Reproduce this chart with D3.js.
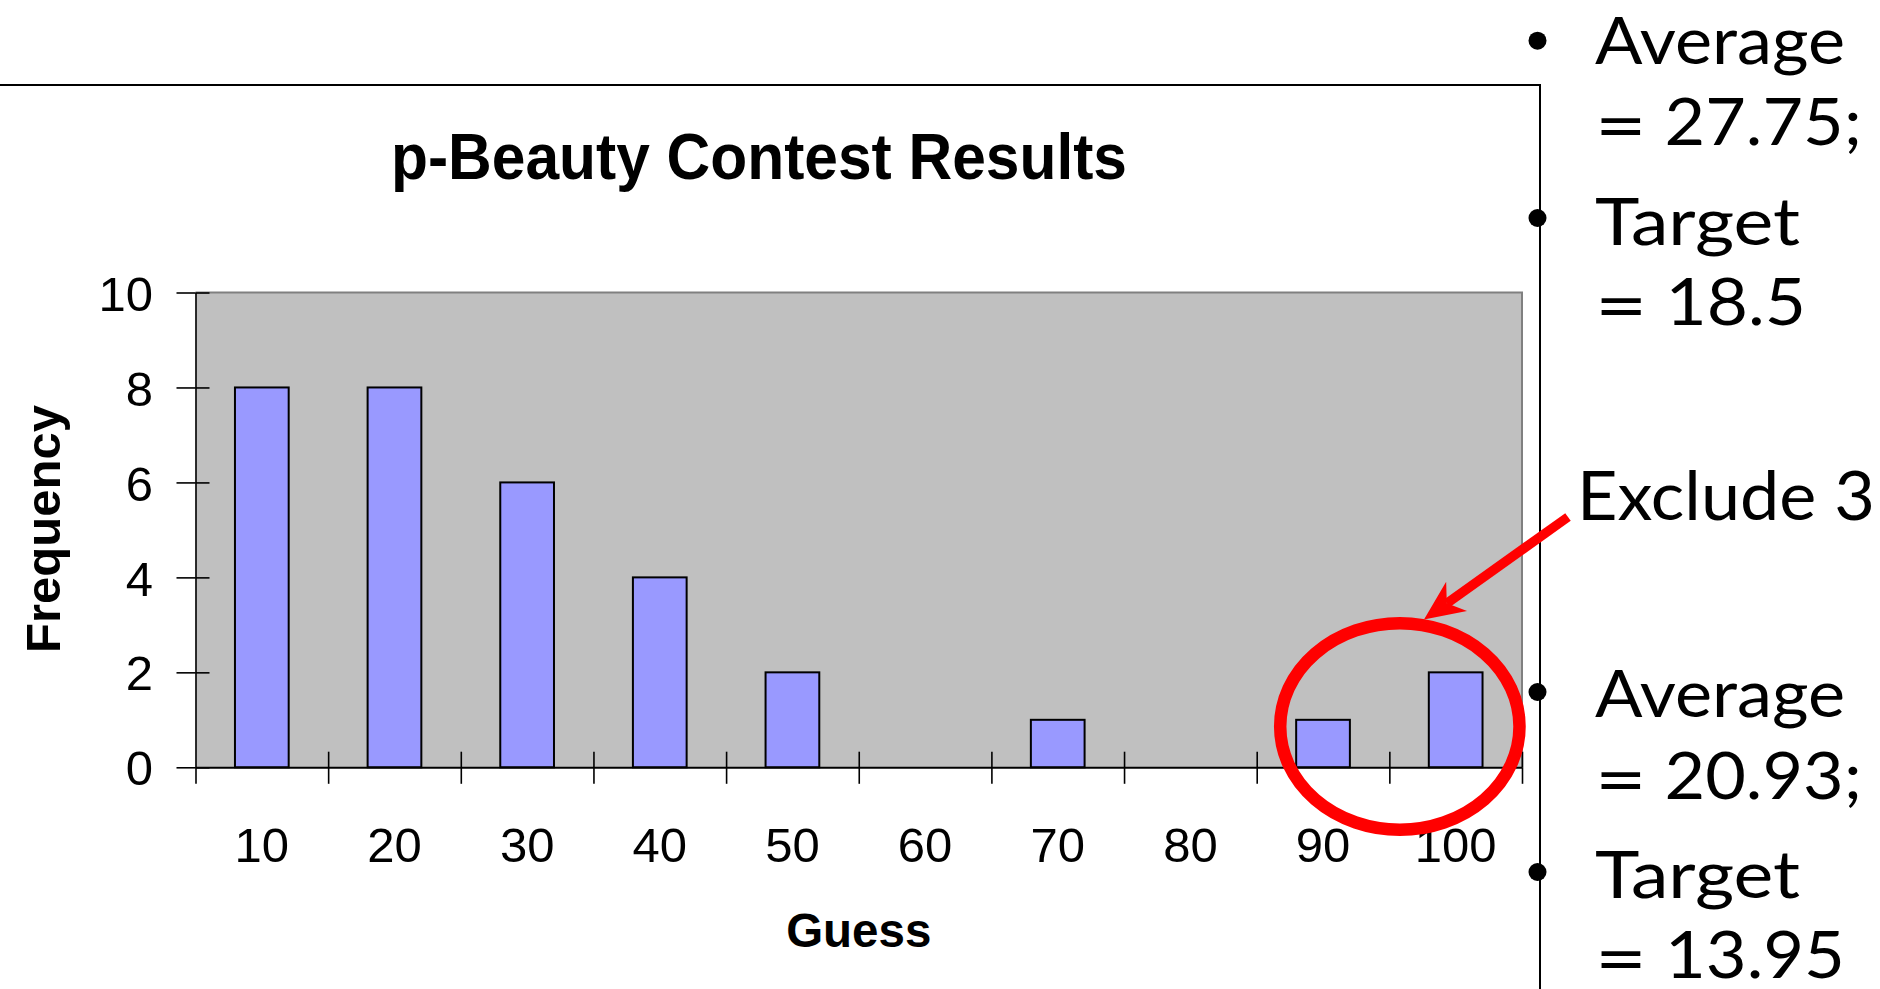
<!DOCTYPE html>
<html><head><meta charset="utf-8">
<script src="https://cdn.jsdelivr.net/npm/d3@7/dist/d3.min.js"></script>
<style>html,body{margin:0;padding:0;background:#fff;overflow:hidden}</style>
</head><body><svg id="chart" width="1880" height="989"></svg>
<script>
// ---- data ----
const categories = ["10","20","30","40","50","60","70","80","90","100"];
const frequencies = [8,8,6,4,2,0,1,0,1,2];
const yTicks = [0,2,4,6,8,10];
const chartTitle = "p-Beauty Contest Results";
const xTitle = "Guess";
const yTitle = "Frequency";
const notesBefore = ["Average", "= 27.75;", "Target", "= 18.5"];
const notesAfter = ["Average", "= 20.93;", "Target", "= 13.95"];
const excludeLabel = "Exclude 3";

// ---- layout ----
const svg = d3.select("#chart");
const P = {left:195.5, right:1522, top:292.5, bottom:767.3};
const ARIAL = "'Liberation Sans', Arial, sans-serif";
const CMSS = "Lato, 'Open Sans', sans-serif";

const y = d3.scaleLinear().domain([0,10]).range([P.bottom, P.top]);
const x = d3.scaleBand().domain(categories).range([P.left, P.right]).paddingInner(0.595).paddingOuter(0.2975);
const xEdge = d3.scaleLinear().domain([0, categories.length]).range([P.left, P.right]);

// slide frame
svg.append("path").attr("d", "M0,85H1540V989").attr("fill","none").attr("stroke","#000").attr("stroke-width",2);

// plot area
svg.append("rect").attr("x",P.left).attr("y",P.top).attr("width",P.right-P.left).attr("height",P.bottom-P.top).attr("fill","#c0c0c0");
svg.append("path").attr("d",`M${P.left},${P.top}H${P.right}V${P.bottom}`).attr("fill","none").attr("stroke","#808080").attr("stroke-width",2);

// bars
const data = categories.map((c,i)=>({c, v:frequencies[i]}));
svg.append("g").selectAll("rect").data(data.filter(d=>d.v>0)).join("rect")
  .attr("x", d=>x(d.c)).attr("y", d=>y(d.v))
  .attr("width", x.bandwidth()).attr("height", d=>y(0)-y(d.v))
  .attr("fill","#9999ff").attr("stroke","#000").attr("stroke-width",2);

// y axis
const yAx = svg.append("g").attr("transform",`translate(${P.left},0)`)
  .call(d3.axisLeft(y).tickValues(yTicks).tickSize(19).tickSizeOuter(0).tickPadding(23.5).tickFormat(d3.format("d")));
yAx.select(".domain").attr("stroke","#000").attr("stroke-width",1.6);
yAx.selectAll(".tick line").attr("stroke","#000").attr("stroke-width",1.6);
yAx.selectAll("text").attr("font-family",ARIAL).attr("font-size",49).attr("fill","#000").attr("dy","0.36em");
const yAx2 = svg.append("g").attr("transform",`translate(${P.left},0)`)
  .call(d3.axisRight(y).tickValues(yTicks).tickSize(14).tickSizeOuter(0).tickFormat(""));
yAx2.select(".domain").remove();
yAx2.selectAll(".tick line").attr("stroke","#000").attr("stroke-width",1.6);

// x axis (ticks at category boundaries)
const xAx = svg.append("g").attr("transform",`translate(0,${P.bottom})`)
  .call(d3.axisBottom(xEdge).tickValues(d3.range(0,categories.length+1)).tickSize(16.5).tickSizeOuter(0).tickFormat(""));
xAx.select(".domain").attr("stroke","#000").attr("stroke-width",2);
xAx.selectAll(".tick line").attr("stroke","#000").attr("stroke-width",1.6);
const xAx2 = svg.append("g").attr("transform",`translate(0,${P.bottom})`)
  .call(d3.axisTop(xEdge).tickValues(d3.range(1,categories.length+1)).tickSize(15.6).tickSizeOuter(0).tickFormat(""));
xAx2.select(".domain").remove();
xAx2.selectAll(".tick line").attr("stroke","#000").attr("stroke-width",1.6);
const xLab = svg.append("g").attr("transform",`translate(0,${P.bottom})`)
  .call(d3.axisBottom(x).tickSize(0));
xLab.select(".domain").remove();
xLab.selectAll("text").attr("font-family",ARIAL).attr("font-size",49).attr("fill","#000")
  .attr("y", 94.7).attr("dy", null);

// titles
svg.append("text").attr("x",391).attr("y",179).attr("font-family",ARIAL).attr("font-weight","bold")
  .attr("font-size",64).attr("textLength",736).attr("lengthAdjust","spacingAndGlyphs").text(chartTitle);
svg.append("text").attr("x",(P.left+P.right)/2).attr("y",947).attr("text-anchor","middle")
  .attr("font-family",ARIAL).attr("font-weight","bold").attr("font-size",47.5).text(xTitle);
svg.append("text").attr("transform","translate(60,529) rotate(-90)").attr("text-anchor","middle")
  .attr("font-family",ARIAL).attr("font-weight","bold").attr("font-size",49).text(yTitle);

// right-side notes
const noteBaselines1 = [64,145,245,325];
const noteBaselines2 = [717,799,898,978];
const noteWidths1 = [250,267,205,211];
const noteWidths2 = [250,267,205,250];
function notes(lines, baselines, widths){
  lines.forEach((t,i)=>{
    const tx = svg.append("text").attr("x",1595).attr("y",baselines[i]).attr("font-family",CMSS)
      .attr("font-size",66).attr("textLength",widths[i]).attr("lengthAdjust","spacingAndGlyphs");
    if (t.startsWith("=")) {
      tx.append("tspan").attr("font-family","'DejaVu Sans', sans-serif").attr("font-size",58).text("=");
      tx.append("tspan").text(t.slice(1));
    } else {
      tx.text(t);
    }
  });
}
notes(notesBefore, noteBaselines1, noteWidths1);
notes(notesAfter, noteBaselines2, noteWidths2);
[40.7,218,692,872].forEach(cy=>svg.append("circle").attr("cx",1537.5).attr("cy",cy).attr("r",9).attr("fill","#000"));
svg.append("text").attr("x",1577).attr("y",520).attr("font-family",CMSS).attr("font-size",68)
  .attr("textLength",298).attr("lengthAdjust","spacingAndGlyphs").text(excludeLabel);

// red annotation: ellipse around 90/100 bars and arrow
const step = xEdge(1)-xEdge(0);
svg.append("ellipse").attr("cx", xEdge(9)+10.5).attr("cy", y(0.86))
  .attr("rx", step*0.902).attr("ry", (y(0)-y(2.176)))
  .attr("fill","none").attr("stroke","#ff0000").attr("stroke-width",12.5);
const tip = [1424,619.5], start = [1568,517];
const dx = tip[0]-start[0], dy = tip[1]-start[1], L = Math.hypot(dx,dy);
const ux = dx/L, uy = dy/L, nx = -uy, ny = ux;
const headLen = 40, notch = 28, half = 18;
const base = [tip[0]-ux*headLen, tip[1]-uy*headLen];
const nb = [tip[0]-ux*notch, tip[1]-uy*notch];
svg.append("line").attr("x1",start[0]).attr("y1",start[1]).attr("x2",nb[0]).attr("y2",nb[1])
  .attr("stroke","#ff0000").attr("stroke-width",9.5);
svg.append("polygon").attr("points",[
  tip, [base[0]+nx*half, base[1]+ny*half], nb, [base[0]-nx*half, base[1]-ny*half]
].map(p=>p.join(",")).join(" ")).attr("fill","#ff0000");
</script></body></html>
